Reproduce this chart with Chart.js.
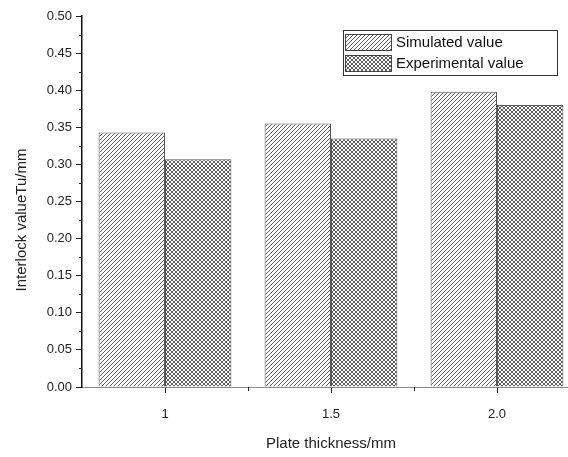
<!DOCTYPE html>
<html>
<head>
<meta charset="utf-8">
<script src="https://cdn.jsdelivr.net/npm/chart.js@4"></script>
<style>
  html, body { margin: 0; padding: 0; background: #fff; overflow: hidden; }
  #wrap { width: 584px; height: 457px; }
</style>
</head>
<body>
<div id="wrap"><canvas id="c"></canvas></div>
<script>
const thickness = ['1', '1.5', '2.0'];
const simulated = [0.343, 0.355, 0.398];
const experimental = [0.307, 0.335, 0.380];
const seriesNames = ['Simulated value', 'Experimental value'];
const yTitle = 'Interlock valueTu/mm';

const FONT = '"Liberation Sans", Arial, sans-serif';

// hatch patterns, roughly what the scanned figure shows
function makePattern(kind) {
    const s = 4;
    const p = document.createElement('canvas');
    p.width = s; p.height = s;
    const g = p.getContext('2d');
    g.fillStyle = '#fff';
    g.fillRect(0, 0, s, s);
    g.strokeStyle = '#5a5a5a';
    g.lineWidth = 1;
    g.beginPath();
    g.moveTo(0, s); g.lineTo(s, 0);
    g.moveTo(-1, 1); g.lineTo(1, -1);
    g.moveTo(s - 1, s + 1); g.lineTo(s + 1, s - 1);
    if (kind === 'cross') {
        g.moveTo(0, 0); g.lineTo(s, s);
        g.moveTo(-1, s - 1); g.lineTo(1, s + 1);
        g.moveTo(s - 1, -1); g.lineTo(s + 1, 1);
    }
    g.stroke();
    return g.createPattern(p, 'repeat');
}

const simFill = makePattern('diag');
const expFill = makePattern('cross');

// minor ticks on both axes + the y title (sits a bit low in the original)
const extras = {
    id: 'extras',
    afterDraw(chart) {
        const ctx = chart.ctx;
        const x = chart.scales.x, y = chart.scales.y;
        ctx.save();
        ctx.strokeStyle = '#222';
        ctx.lineWidth = 1;
        ctx.beginPath();
        for (let v = 0.025; v < 0.5; v += 0.05) {
            const py = Math.round(y.getPixelForValue(v)) + 0.5;
            ctx.moveTo(x.left - 3, py); ctx.lineTo(x.left, py);
        }
        for (let i = 0; i < thickness.length - 1; i++) {
            const px = Math.round((x.getPixelForValue(i) + x.getPixelForValue(i + 1)) / 2) + 0.5;
            ctx.moveTo(px, y.bottom); ctx.lineTo(px, y.bottom + 4);
        }
        ctx.stroke();

        ctx.translate(22, 220);
        ctx.rotate(-Math.PI / 2);
        ctx.font = '15px ' + FONT;
        ctx.fillStyle = '#222';
        ctx.textAlign = 'center';
        ctx.textBaseline = 'middle';
        ctx.fillText(yTitle, 0, 0);
        ctx.restore();
    }
};

// legend box inside the plot, top right
const boxLegend = {
    id: 'boxLegend',
    afterDraw(chart) {
        const ctx = chart.ctx;
        const L = 343, T = 30, W = 214, H = 45;
        ctx.save();
        ctx.fillStyle = '#fff';
        ctx.fillRect(L, T, W, H);
        ctx.strokeStyle = '#333';
        ctx.lineWidth = 1;
        ctx.strokeRect(L + 0.5, T + 0.5, W, H);
        ctx.font = '15px ' + FONT;
        ctx.textBaseline = 'middle';
        chart.data.datasets.forEach((ds, i) => {
            const cy = T + 12 + i * 21;
            ctx.fillStyle = ds.backgroundColor;
            ctx.fillRect(L + 2, cy - 8, 46, 16);
            ctx.strokeStyle = '#444';
            ctx.strokeRect(L + 2.5, cy - 7.5, 46, 16);
            ctx.fillStyle = '#111';
            ctx.fillText(ds.label, L + 53, cy + 1);
        });
        ctx.restore();
    }
};

new Chart(document.getElementById('c'), {
    type: 'bar',
    data: {
        labels: thickness,
        datasets: [
            { label: seriesNames[0], data: simulated, backgroundColor: simFill, borderColor: '#555', borderWidth: 1 },
            { label: seriesNames[1], data: experimental, backgroundColor: expFill, borderColor: '#555', borderWidth: 1 },
        ],
    },
    options: {
        responsive: true,
        maintainAspectRatio: false,
        animation: false,
        layout: { padding: { top: 16, right: 4, left: 0, bottom: 0 } },
        datasets: { bar: { categoryPercentage: 0.8, barPercentage: 1.0 } },
        plugins: { legend: { display: false }, tooltip: { enabled: false } },
        scales: {
            x: {
                offset: true,
                grid: { offset: false, drawOnChartArea: false, drawTicks: true, tickLength: 6, color: '#222' },
                border: { color: '#888', width: 1 },
                ticks: { color: '#222', font: { family: FONT, size: 13 }, padding: 14, maxRotation: 0 },
                title: { display: true, text: 'Plate thickness/mm', color: '#222', font: { family: FONT, size: 15 }, padding: { top: 4 } },
                afterFit(s) { s.height = 70; },
            },
            y: {
                min: 0,
                max: 0.5,
                grid: { drawOnChartArea: false, drawTicks: true, tickLength: 6, color: '#222' },
                border: { color: '#111', width: 1.5 },
                ticks: {
                    stepSize: 0.05,
                    color: '#222',
                    font: { family: FONT, size: 13 },
                    padding: 4,
                    callback: (v) => v.toFixed(2),
                },
                afterFit(s) { s.width = 82; },
            },
        },
    },
    plugins: [extras, boxLegend],
});
</script>
</body>
</html>
